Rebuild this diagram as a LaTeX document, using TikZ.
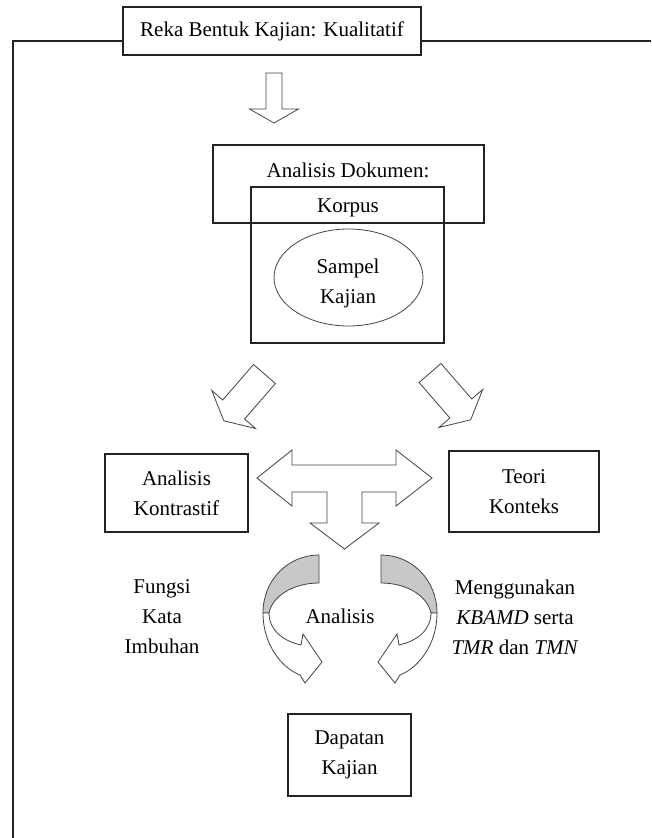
\documentclass[tikz,border=0pt]{standalone}
\usepackage{fontspec}
\setmainfont{Liberation Serif}
\usetikzlibrary{positioning, shapes.geometric}
\definecolor{outline}{HTML}{222222}
\definecolor{shade}{HTML}{C8C8C8}

\begin{document}
\begin{tikzpicture}[x=1pt, y=-1pt,
  txt/.style={font=\fontsize{21}{30}\selectfont, align=center, inner sep=0pt},
  box/.style={draw=outline, line width=1.1pt, txt},
  blk/.style={draw=outline!85, line width=0.8pt, fill=white, line join=miter},
  back/.style={draw=outline!85, line width=0.8pt, fill=shade}
]
  \useasboundingbox (0,0) rectangle (651,838);
  % title and frame
  \node[box, minimum width=298pt, minimum height=48pt] (title) at (272,31)
    {Reka Bentuk Kajian: Kualitatif};
  \coordinate (frameTL) at (13,41);
  \coordinate (frameBL) at (13,838);
  \coordinate (frameR) at (651,41);
  \draw[outline, line width=1.3pt] (title.west |- frameTL) -- (frameTL) -- (frameBL);
  \draw[outline, line width=1.3pt] (title.east |- frameR) -- (frameR);

  % straight block arrows: x/y/angle/length/head/shaft/headwidth
  \foreach \px/\py/\ang/\len/\hd/\sw/\hw in {274/73/-90/50/14/8/24.5,
                                             264.5/374/-131/62/15/14.5/29,
                                             430/373/-49/62/15/14.5/29}
    \draw[blk, shift={(\px,\py)}, rotate=\ang]
      (0,\sw) -- (\len-\hd,\sw) -- (\len-\hd,\hw) -- (\len,0)
      -- (\len-\hd,-\hw) -- (\len-\hd,-\sw) -- (0,-\sw) -- cycle;

  % document, corpus and sample
  \node[draw=outline, line width=1.1pt, minimum width=271pt, minimum height=78pt]
    (dokbox) at (348.5,184) {};
  \node[draw=outline, line width=1.1pt, minimum width=193pt, minimum height=156pt]
    (korpusbox) at (347.5,265) {};
  \node[txt] (dokumen) at (348,170) {Analisis Dokumen:};
  \node[txt] (korpus) at (348,208) {Korpus};
  \node[ellipse, draw=outline!85, line width=0.8pt, minimum width=149pt,
    minimum height=97pt] (sampel) at (348.5,277.5) {};
  \node[txt] (sampeltext) at (348,283) {Sampel\\Kajian};

  % side boxes
  \node[box, minimum width=143pt, minimum height=78pt] (kontrastif) at (176.5,493)
    {Analisis\\Kontrastif};
  \node[box, minimum width=150pt, minimum height=81pt] (konteks) at (524,491.5)
    {Teori\\Konteks};

  % T-shaped arrow
  \draw[blk] (257,478) -- (292,450) -- (292,465) -- (396,465) -- (396,450)
    -- (432,478) -- (396,506) -- (396,492) -- (362,492) -- (362,523)
    -- (379,523) -- (344.5,549) -- (310,523) -- (327,523) -- (327,492)
    -- (292,492) -- (292,506) -- cycle;

  % curved arrows, right one mirrored
  \foreach \side in {1,-1}{
    \begin{scope}[shift={({350-350*\side},0)}, xscale=\side]
      \draw[back] (319,555) .. controls (288,555) and (263,580) .. (263,613)
        -- (269,613) .. controls (272,597) and (292,583) .. (319,583) -- cycle;
      \draw[blk] (263,613) .. controls (263,645) and (282,668) .. (300,675)
        -- (305,683) -- (322,662) -- (303,634) -- (301,645)
        .. controls (283,641) and (269,630) .. (269,613) -- cycle;
    \end{scope}
  }

  % labels round the analysis
  \node[txt] (fungsi) at (162,617) {Fungsi\\Kata\\Imbuhan};
  \node[txt] (analisis) at (340,616) {Analisis};
  \node[txt] (menggunakan) at (515,617)
    {Menggunakan\\\textit{KBAMD} serta\\\textit{TMR} dan \textit{TMN}};

  % result
  \node[box, minimum width=123pt, minimum height=82pt] (dapatan) at (349.5,755)
    {Dapatan\\Kajian};
\end{tikzpicture}
\end{document}
